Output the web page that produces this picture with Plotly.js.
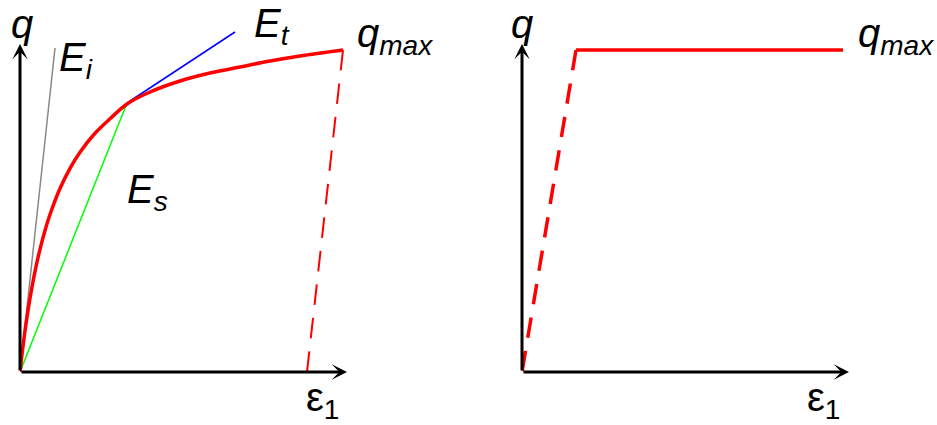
<!DOCTYPE html>
<html><head><meta charset="utf-8">
<script src="https://cdn.plot.ly/plotly-3.0.1.min.js"></script>
<style>html,body{margin:0;padding:0;background:#fff}</style>
</head><body><div id="plot" style="width:937px;height:425px"></div>
<script>
// Left panel: hyperbolic stress-strain curve
const curveX = [0,2,4,6,9,12,16,20,25,30,40,50,60,75,90,107,130,160,190,220,250,280,323];
const curveY = [0,17.6,33.6,48.2,67.8,85.1,105.3,122.7,141.4,157.5,183.5,203.7,219.8,238.7,253.2,268,280,291,299,305,311,316,322];
const eiX = [0,35], eiY = [0,324];
const esX = [0,107], esY = [0,269];
const etX = [107,215], etY = [269,340];
const unloadX = [323,287], unloadY = [322,0];
// Right panel: elastic-perfectly plastic
const elasX = [54,0], elasY = [322,0];
const plasX = [54,321], plasY = [322,322];
const axisTip = {x:327, y:328};

const W=937,H=425;
const traces = [
  {x:eiX,y:eiY,mode:'lines',line:{color:'#888888',width:1.5},xaxis:'x',yaxis:'y'},
  {x:esX,y:esY,mode:'lines',line:{color:'#00ff00',width:1.5},xaxis:'x',yaxis:'y'},
  {x:etX,y:etY,mode:'lines',line:{color:'#0000ff',width:1.5},xaxis:'x',yaxis:'y'},
  {x:unloadX,y:unloadY,mode:'lines',line:{color:'#ff0000',width:2,dash:'20.5px,13.2px'},xaxis:'x',yaxis:'y'},
  {x:curveX,y:curveY,mode:'lines',line:{color:'#ff0000',width:3.5,shape:'spline'},xaxis:'x',yaxis:'y'},
  {x:elasX,y:elasY,mode:'lines',line:{color:'#ff0000',width:3.5,dash:'20.5px,13.4px'},xaxis:'x2',yaxis:'y2'},
  {x:plasX,y:plasY,mode:'lines',line:{color:'#ff0000',width:3.5},xaxis:'x2',yaxis:'y2'}
];
traces.forEach(t=>{t.hoverinfo='skip';t.cliponaxis=false;});

function arrow(xr,yr,x,y){
  return {xref:xr,yref:yr,axref:xr,ayref:yr,x:x,y:y,ax:0,ay:0,text:'',showarrow:true,
    arrowhead:3,arrowsize:0.85,arrowwidth:3,arrowcolor:'#000'};
}
function lab(text,px,py,size){
  return {xref:'paper',yref:'paper',x:px/W,y:1-py/H,xanchor:'left',yanchor:'middle',
    text:text,showarrow:false,font:{family:'Liberation Sans, Arial, sans-serif',size:size||40,color:'#000'}};
}
const ann = [
  arrow('x','y',axisTip.x,0), arrow('x','y',0,axisTip.y),
  arrow('x2','y2',axisTip.x,0), arrow('x2','y2',0,axisTip.y),
  lab('<i>q</i>',9,24), lab('<i>E<sub>i</sub></i>',57,60), lab('<i>E<sub>t</sub></i>',252,26),
  lab('<i>q</i><sub><i>max</i></sub>',355,36), lab('<i>E<sub>s</sub></i>',125,192), lab('ε<sub>1</sub>',304,400),
  lab('<i>q</i>',509,24), lab('<i>q</i><sub><i>max</i></sub>',856,36), lab('ε<sub>1</sub>',805,400)
];
const ydom=[53/H,398/H];
const layout = {
  width:W,height:H,margin:{l:0,r:0,t:0,b:0},showlegend:false,
  paper_bgcolor:'#fff',plot_bgcolor:'#fff',
  xaxis:{domain:[20/W,360/W],range:[0,340],visible:false,fixedrange:true},
  yaxis:{domain:ydom,range:[0,345],visible:false,fixedrange:true},
  xaxis2:{domain:[522/W,862/W],range:[0,340],visible:false,anchor:'y2',fixedrange:true},
  yaxis2:{domain:ydom,range:[0,345],visible:false,anchor:'x2',fixedrange:true},
  annotations:ann
};
Plotly.newPlot('plot',traces,layout,{staticPlot:true});
</script></body></html>
